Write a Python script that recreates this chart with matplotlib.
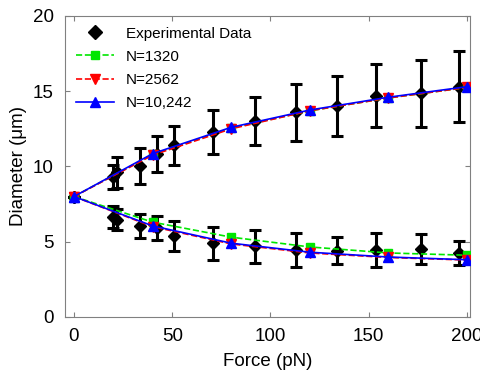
import numpy as np
import matplotlib
matplotlib.use("Agg")
import matplotlib.pyplot as plt

plt.rcParams['font.family'] = ['Liberation Sans', 'DejaVu Sans']

# experimental data (upper and lower branch)
force_exp = [0, 19.8, 21.9, 33.6, 42.2, 50.9, 70.7, 92, 113, 133.8, 153.7, 176.6, 196]
upper_exp = [8.0, 9.3, 9.6, 10.0, 10.85, 11.4, 12.3, 13.0, 13.6, 14.0, 14.7, 14.85, 15.3]
upper_err = [0.0, 0.8, 1.05, 1.2, 1.2, 1.3, 1.45, 1.6, 1.9, 2.0, 2.1, 2.25, 2.35]
lower_exp = [8.0, 6.65, 6.45, 6.05, 5.9, 5.4, 4.9, 4.7, 4.45, 4.4, 4.45, 4.5, 4.25]
lower_err = [0.0, 0.75, 0.7, 0.8, 0.8, 1.0, 1.1, 1.1, 1.15, 0.9, 1.1, 1.0, 0.8]

# simulations
force_sim = [0, 40, 80, 120, 160, 200]
upper_1320 = [8.0, 10.8, 12.55, 13.7, 14.55, 15.25]
lower_1320 = [8.0, 6.3, 5.3, 4.65, 4.25, 4.1]
upper_2562 = [8.0, 10.75, 12.5, 13.7, 14.55, 15.25]
lower_2562 = [8.0, 6.0, 4.85, 4.25, 3.95, 3.78]
upper_10242 = [8.0, 10.85, 12.6, 13.75, 14.6, 15.3]
lower_10242 = [8.0, 6.05, 4.9, 4.3, 3.98, 3.8]

fig = plt.figure(figsize=(4.81, 3.80), dpi=100)
ax = fig.add_axes([0.135, 0.166, 0.842, 0.792])

eb_kw = dict(fmt='D', color='black', ms=6, elinewidth=2.2, capsize=4.5, capthick=2.2, zorder=2)
ax.errorbar(force_exp, upper_exp, yerr=upper_err, **eb_kw)
ax.errorbar(force_exp, lower_exp, yerr=lower_err, **eb_kw)

green = '#00e600'
h1, = ax.plot(force_sim, upper_1320, '--s', color=green, ms=5.5, lw=1.2, zorder=3)
ax.plot(force_sim, lower_1320, '--s', color=green, ms=5.5, lw=1.2, zorder=3)
h2, = ax.plot(force_sim, upper_2562, '--v', color='red', ms=6.5, lw=1.2, zorder=4)
ax.plot(force_sim, lower_2562, '--v', color='red', ms=6.5, lw=1.2, zorder=4)
h3, = ax.plot(force_sim, upper_10242, '-^', color='blue', ms=6.5, lw=1.2, zorder=5)
ax.plot(force_sim, lower_10242, '-^', color='blue', ms=6.5, lw=1.2, zorder=5)

ax.set_xlim(-4.6, 201.5)
ax.set_ylim(0, 20)
ax.set_xticks([0, 50, 100, 150, 200])
ax.set_yticks([0, 5, 10, 15, 20])
ax.tick_params(direction='in', top=True, right=True, labelsize=13.5, color='gray', pad=8)
for s in ax.spines.values():
    s.set_color('gray')
ax.set_xlabel('Force (pN)', fontsize=13.5, labelpad=6)
ax.set_ylabel('Diameter (μm)', fontsize=13.5, labelpad=4)

h0 = plt.Line2D([], [], ls='none', marker='D', color='black', ms=7)
ax.legend([h0, h1, h2, h3], ['Experimental Data', 'N=1320', 'N=2562', 'N=10,242'],
          loc='upper left', frameon=False, fontsize=11,
          handlelength=2.5, borderaxespad=0.3, labelspacing=0.6)

fig.savefig('out.png', dpi=100)
